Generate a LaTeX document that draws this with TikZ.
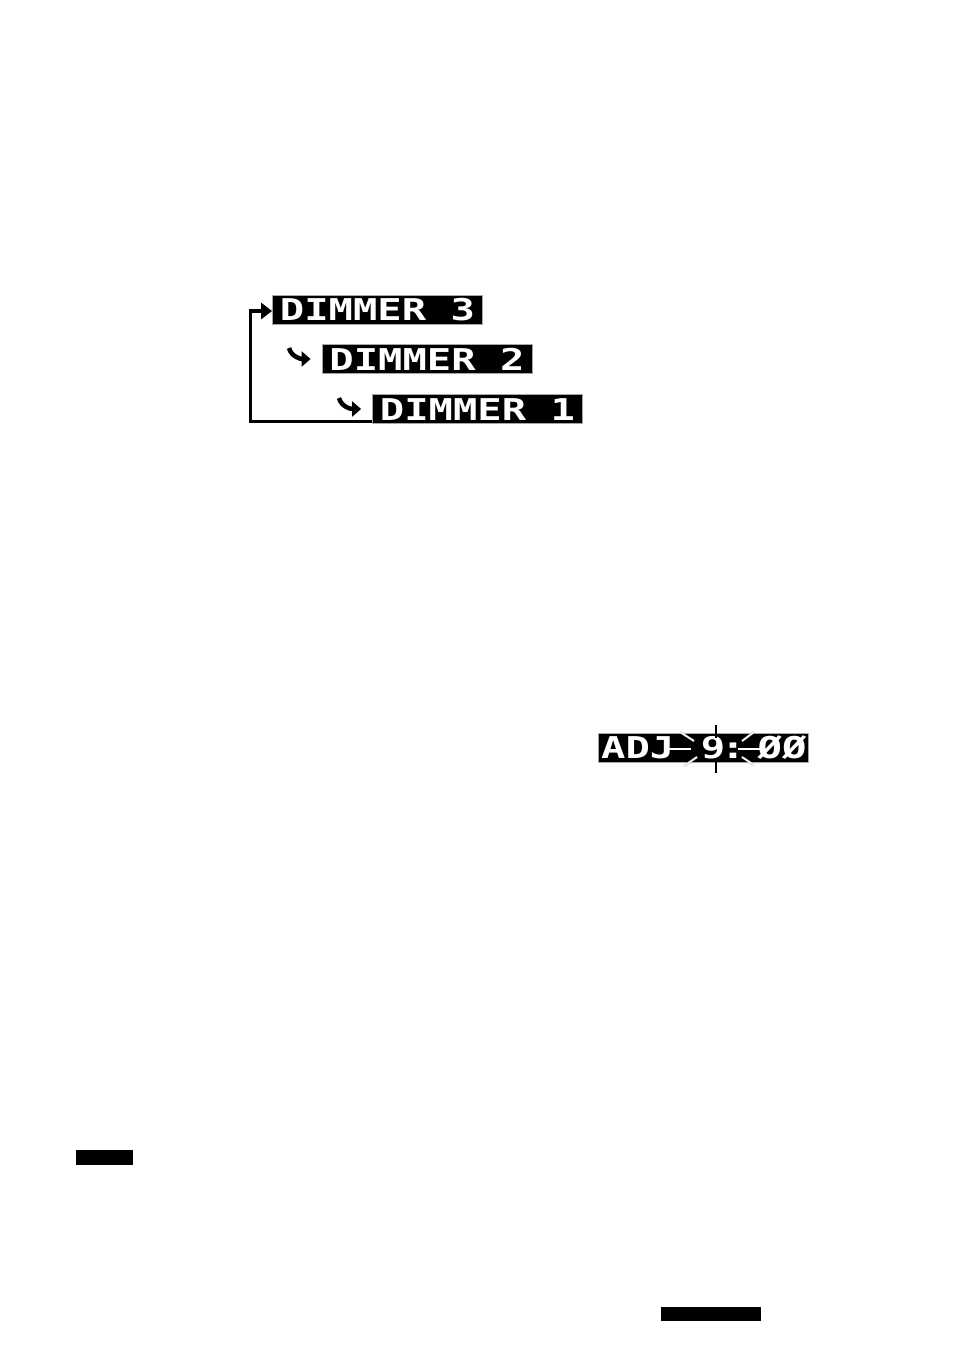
\documentclass[tikz,border=0pt]{standalone}
\usepackage{fontspec}
\usetikzlibrary{arrows.meta}
\newfontfamily\lcdfont[FakeStretch=1.35]{DejaVu Sans Mono Bold}

\begin{document}
\begin{tikzpicture}[x=1pt,y=-1pt,
    lcd/.style={fill=black, draw=gray!70, line width=0.8pt, minimum width=210pt,
        minimum height=29pt, inner sep=0pt, text=white,
        font=\lcdfont\fontsize{30}{30}\selectfont, text height=22pt, text depth=0pt},
    lcdtext/.style={inner sep=0pt, text=white,
        font=\lcdfont\fontsize{30}{30}\selectfont, text height=22pt, text depth=0pt},
    loopline/.style={line width=3.5pt, -{Triangle[length=11pt,width=16pt]}},
    turn/.style={line width=4.5pt, -{Triangle[length=9pt,width=15pt]}},
    ray/.style={draw=gray!60, double=white, double distance=1.2pt, line width=0.5pt},
    tick/.style={line width=1.3pt}]
    \useasboundingbox (0,0) rectangle (954,1350);

    % Define the three dimmer displays
    \foreach \n/\x/\y in {3/377.5/309.5, 2/427/359, 1/477.5/409} {
        \node[lcd] (dim\n) at (\x,\y) {DIMMER \n};
    }

    % Define points of the loop and turn arrows
    \coordinate (loopcorner) at (250.5,311);
    \coordinate (turn2) at (289,348);
    \coordinate (turn1) at (339,398);

    % Draw arrows
    \draw[loopline] ([yshift=2.5pt]dim1.south west) -| (loopcorner)
        -- ([yshift=-1.5pt]dim3.west);
    \draw[turn] (turn2) to[out=-75, in=180] ([xshift=-11pt]dim2.west);
    \draw[turn] (turn1) to[out=-75, in=180] ([xshift=-11pt]dim1.west);

    % Clock display
    \node[lcd] (adj) at (703,747.5) {};
    \node[lcdtext, anchor=west] (adjword) at (601,747.5) {ADJ};
    \node[lcdtext] (hour) at (713,747.5) {9};
    \node[lcdtext] (colon) at (733,747.5) {:};
    \node[lcdtext] (mins) at (782,747.5) {ØØ};

    % Draw blink rays round the hour
    \draw[ray] (680,732) -- (694,741);
    \draw[ray] (684,766) -- (697,757);
    \draw[ray] (742,741) -- (754,732);
    \draw[ray] (742,757) -- (754,765);
    \draw[white, line width=1.5pt] (667,749) -- (691,749);
    \draw[white, line width=1.5pt] (738,749) -- (760,749);
    \draw[tick] (716,725) -- (716,738);
    \draw[tick] (716,759) -- (716,773);

    % Black bars
    \fill (76,1150) rectangle (133,1165);
    \fill (661,1307) rectangle (761,1321);
\end{tikzpicture}
\end{document}
